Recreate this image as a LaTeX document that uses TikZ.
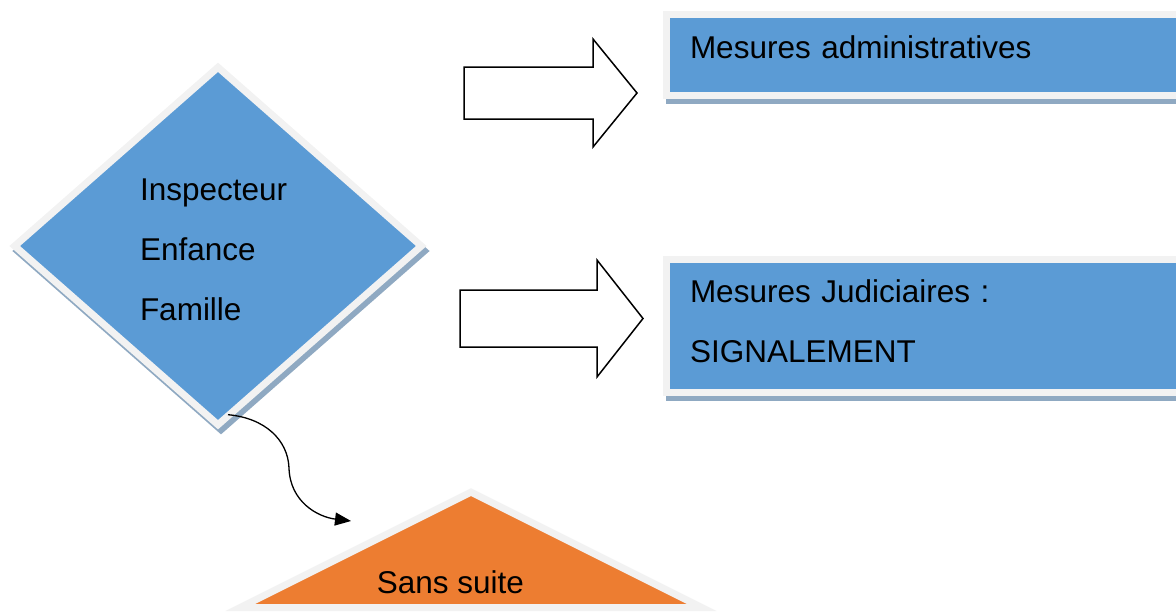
\documentclass[tikz,border=0pt]{standalone}
\usepackage{fontspec}
\setmainfont{Liberation Sans}
\usetikzlibrary{shapes.geometric}
\usetikzlibrary{calc}
\usetikzlibrary{arrows.meta}
\definecolor{boxblue}{HTML}{5B9BD5}
\definecolor{rimgrey}{HTML}{F2F2F2}
\definecolor{shadegrey}{HTML}{8FA9C2}
\definecolor{nextorange}{HTML}{ED7D31}
\tikzset{IEFstyle/.style={
    x=1pt, y=-1pt,% one unit per pixel, y pointing down
    font=\fontsize{31.5}{60}\selectfont,
    lifted/.style={% grey rim and a shadow below right
      fill=boxblue,
      draw=rimgrey,
      line width=7pt,
      outer sep=0pt,
      preaction={draw=shadegrey, fill=shadegrey,
        transform canvas={xshift=3pt, yshift=-5pt}}
    },
    decision/.style={lifted, diamond, inner sep=0pt,
      minimum width=406.6pt, minimum height=357.4pt,
      text width=156pt, align=left, text height=23pt, text depth=115pt},
    measure/.style={lifted, rectangle, anchor=north west,
      inner xsep=23.5pt, inner ysep=0pt, text width=540pt, align=left},
    blockarrow/.style={draw=black, line width=1.5pt, fill=white, line join=miter},
    outcome/.style={fill=nextorange, draw=rimgrey, line width=7pt},
    >={Triangle[length=16pt,width=13pt]}
  }
}
\begin{document}
\begin{tikzpicture}[IEFstyle]
  \useasboundingbox (0,0) rectangle (1176,613);
  \clip (0,0) rectangle (1176,613);
  \node[decision] (ief) at (218,246) {Inspecteur\\Enfance\\Famille};
  \node[measure, text height=43.5pt, text depth=37.5pt] (admin) at (666.5,14.5)
    {Mesures administratives};
  \node[measure, text height=42.5pt, text depth=90.5pt] (judic) at (666.5,259.5)
    {Mesures Judiciaires :\\SIGNALEMENT};
  % big hollow arrows
  \draw[blockarrow] (464,67) -- (593,67) -- (593,39) -- (637,93)
    -- (593,147) -- (593,119) -- (464,119) -- cycle;
  \draw[blockarrow] (460,290) -- (597,290) -- (597,260) -- (643,318.5)
    -- (597,377) -- (597,347) -- (460,347) -- cycle;
  % sans suite
  \filldraw[outcome] (471,492.1) -- (701.8,607.5) -- (240.2,607.5) -- cycle;
  \node[anchor=base] (sans) at (450.5,593) {Sans suite};
  \coordinate (drop) at ($(ief.south)+(10,-10)$);
  \coordinate (sansin) at (351,521);
  \draw[->, line width=1.3pt] (drop) .. controls (265,418) and (288,440) .. (289,468)
    .. controls (290,502) and (318,517) .. (sansin);
\end{tikzpicture}
\end{document}
